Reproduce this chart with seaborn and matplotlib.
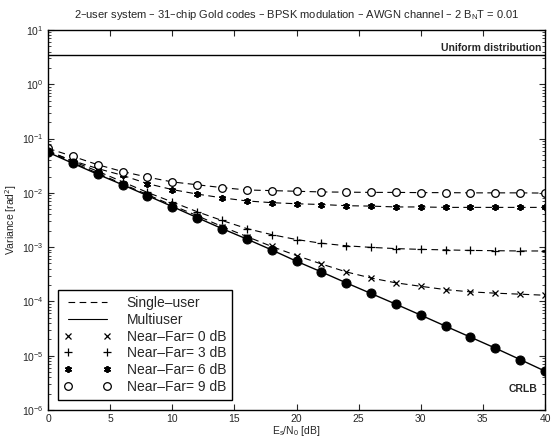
import numpy as np
import pandas as pd
import matplotlib
matplotlib.use("Agg")
import matplotlib.pyplot as plt
from matplotlib.lines import Line2D
import seaborn as sns

# ---- data ----
esn0 = [0, 2, 4, 6, 8, 10, 12, 14, 16, 18, 20, 22, 24, 26, 28, 30, 32, 34, 36, 38, 40]
crlb = [0.056, 0.035, 0.022, 0.0141, 0.0089, 0.0056, 0.0035, 0.0022, 0.00141, 0.00089,
        0.00055, 0.00035, 0.00022, 0.000140, 0.000089, 0.000056, 0.000035, 0.000022,
        0.0000138, 0.0000085, 0.0000052]
nf0 = [0.058, 0.036, 0.023, 0.0146, 0.0093, 0.0059, 0.0038, 0.0024, 0.00157, 0.00103,
       0.00070, 0.00049, 0.00035, 0.00027, 0.00022, 0.00019, 0.000165, 0.000150,
       0.000142, 0.000136, 0.000130]
nf3 = [0.060, 0.038, 0.025, 0.0160, 0.0102, 0.0068, 0.0045, 0.0031, 0.0022, 0.0017,
       0.00138, 0.00118, 0.00106, 0.00099, 0.00094, 0.00091, 0.00089, 0.00087,
       0.00086, 0.00085, 0.00085]
nf6 = [0.058, 0.039, 0.028, 0.021, 0.0148, 0.0115, 0.0095, 0.0081, 0.0071, 0.0066,
       0.0063, 0.0061, 0.0058, 0.0057, 0.0055, 0.0055, 0.0054, 0.0054, 0.0054,
       0.0054, 0.0054]
nf9 = [0.066, 0.047, 0.033, 0.0247, 0.0195, 0.0159, 0.0141, 0.0125, 0.0113, 0.0110,
       0.0107, 0.0104, 0.0103, 0.0102, 0.0102, 0.0101, 0.0101, 0.0100, 0.0100,
       0.0100, 0.0099]
uniform_var = 3.4
title = "2–user system – 31–chip Gold codes – BPSK modulation – AWGN channel – 2 $\\mathregular{B_N}$T = 0.01"
legend_labels = ["Single–user", "Multiuser", "Near–Far= 0 dB", "Near–Far= 3 dB",
                 "Near–Far= 6 dB", "Near–Far= 9 dB"]

sns.set_style("ticks")
plt.rcParams["font.family"] = ["Liberation Sans", "DejaVu Sans"]

fig = plt.figure(figsize=(5.52, 4.48), dpi=100)
ax = fig.add_axes([48 / 552, 1 - 410 / 448, 497 / 552, 380 / 448])

lw = 0.8
dash = (6, 4)
aster = (6, 2, 0)
series = [(nf0, "x", 4.5, "none", 0.9), (nf3, "+", 6, "none", 0.9),
          (nf6, aster, 5, "k", 1.3), (nf9, "o", 5.5, "white", 0.9)]
for vals, mk, ms, mfc, mew in series:
    df = pd.DataFrame({"x": esn0, "y": vals})
    sns.lineplot(data=df, x="x", y="y", ax=ax, color="k", linewidth=lw,
                 marker=mk, markersize=ms, markerfacecolor=mfc, markeredgecolor="k",
                 markeredgewidth=mew, dashes=False, linestyle=(0, dash))

dfc = pd.DataFrame({"x": esn0, "y": crlb})
sns.lineplot(data=dfc, x="x", y="y", ax=ax, color="k", linewidth=1.0, marker="o",
             markersize=6.5, markerfacecolor="k", markeredgecolor="k")

ax.axhline(uniform_var, color="k", linewidth=1.0)

ax.set_yscale("log")
ax.set_xlim(0, 40)
ax.set_ylim(1e-6, 10)
ax.set_xticks([0, 5, 10, 15, 20, 25, 30, 35, 40])
ax.tick_params(direction="in", which="both", top=True, right=True, labelsize=7.5, length=4, pad=3)
ax.tick_params(which="minor", length=2)
for s in ax.spines.values():
    s.set_linewidth(1.0)
    s.set_color("k")

ax.set_xlabel("$\\mathregular{E_s/N_0}$ [dB]", fontsize=7.5, labelpad=0)
ax.set_ylabel("Variance [rad$^2$]", fontsize=7.5, labelpad=2)
ax.set_title(title, fontsize=8, pad=9)

ax.text(39.7, uniform_var * 1.12, "Uniform distribution", ha="right", va="bottom",
        fontsize=7.5, fontweight="bold")
ax.text(39.4, 2.4e-6, "CRLB", ha="right", va="center", fontsize=7.5, fontweight="bold")

handles = [
    Line2D([], [], color="k", linestyle=(0, dash), linewidth=lw),
    Line2D([], [], color="k", linestyle="-", linewidth=lw),
    Line2D([], [], color="k", linestyle="none", marker="x", markersize=4.5, markeredgewidth=0.9),
    Line2D([], [], color="k", linestyle="none", marker="+", markersize=6, markeredgewidth=0.9),
    Line2D([], [], color="k", linestyle="none", marker=aster, markersize=5, markeredgewidth=1.3),
    Line2D([], [], color="k", linestyle="none", marker="o", markersize=5.5,
           markerfacecolor="white", markeredgewidth=0.9),
]
leg = ax.legend(handles, legend_labels, loc="lower left", bbox_to_anchor=(0.02, 0.026),
                fontsize=10, numpoints=2, handlelength=3.4, handletextpad=1.1,
                borderpad=0.45, labelspacing=0.2, frameon=True, fancybox=False,
                edgecolor="k", framealpha=1, borderaxespad=0)
leg.get_frame().set_linewidth(1.0)

fig.savefig("out.png", dpi=100)
